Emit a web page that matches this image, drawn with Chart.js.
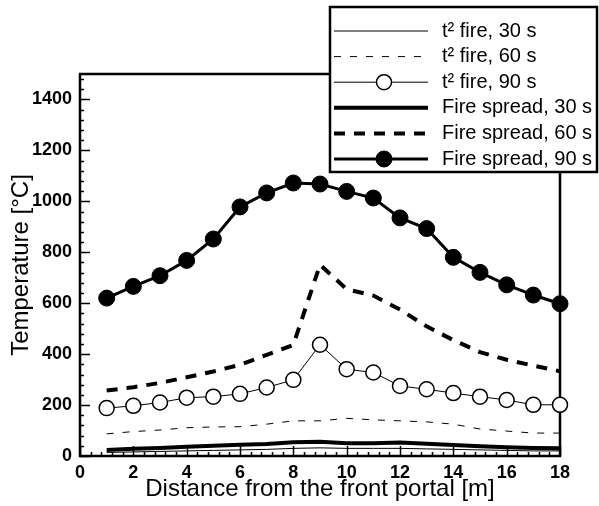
<!DOCTYPE html>
<html>
<head>
<meta charset="utf-8">
<script src="https://cdn.jsdelivr.net/npm/chart.js@4/dist/chart.umd.min.js"></script>
<style>
  html, body { margin: 0; padding: 0; background: #fff; }
</style>
</head>
<body>
<canvas id="tempChart" width="599" height="506"></canvas>
<script>
// distance from the front portal [m]
const distance = [1, 2, 3, 4, 5, 6, 7, 8, 9, 10, 11, 12, 13, 14, 15, 16, 17, 18];

// temperatures [°C]
const t2Fire30 = [14, 16, 18, 20, 22, 24, 26, 30, 32, 30, 30, 30, 28, 26, 24, 22, 20, 20];
const t2Fire60 = [87, 96, 102, 111, 114, 115, 125, 138, 138, 148, 142, 138, 134, 125, 106, 98, 90, 90];
const t2Fire90 = [188, 197, 210, 229, 233, 244, 269, 299, 437, 341, 328, 275, 262, 247, 233, 220, 201, 201];
const spread30 = [24, 28, 31, 36, 40, 44, 47, 54, 56, 50, 50, 53, 48, 43, 38, 34, 31, 30];
const spread60 = [257, 270, 287, 309, 332, 358, 397, 436, 751, 655, 630, 575, 509, 455, 408, 378, 355, 333];
const spread90 = [620, 666, 708, 768, 852, 978, 1033, 1072, 1068, 1039, 1013, 935, 893, 780, 721, 672, 632, 598];

const xTicks = [0, 2, 4, 6, 8, 10, 12, 14, 16, 18];
const yTicks = [0, 200, 400, 600, 800, 1000, 1200, 1400];

const FONT = "'Liberation Sans', Arial, sans-serif";
const pts = (arr) => distance.map((d, i) => ({ x: d, y: arr[i] }));

// frame + inward tick marks
const framePlugin = {
    id: 'frame',
    beforeDatasetsDraw(chart) {
        const { ctx, chartArea: a, scales: { x, y } } = chart;
        ctx.save();
        ctx.strokeStyle = '#000';
        ctx.lineWidth = 1.5;
        ctx.beginPath();
        for (let i = 0; i <= 45; i++) {
            const v = i * 0.4;
            const px = Math.round(x.getPixelForValue(v)) + 0.5;
            const len = i % 5 === 0 ? 10 : 4;
            ctx.moveTo(px, a.bottom);
            ctx.lineTo(px, a.bottom - len);
        }
        for (let i = 0; i <= 37; i++) {
            const v = i * 40;
            const py = Math.round(y.getPixelForValue(v)) + 0.5;
            const len = i % 5 === 0 ? 10 : 4;
            ctx.moveTo(a.left, py);
            ctx.lineTo(a.left + len, py);
        }
        ctx.stroke();
        ctx.lineWidth = 2.5;
        ctx.strokeRect(a.left, a.top, a.right - a.left, a.bottom - a.top);
        ctx.restore();
    }
};

// boxed legend in the top right corner
const legendPlugin = {
    id: 'boxLegend',
    afterDraw(chart) {
        const ctx = chart.ctx;
        const box = { l: 330, t: 7, r: 597, b: 172 };
        ctx.save();
        ctx.fillStyle = '#fff';
        ctx.fillRect(box.l, box.t, box.r - box.l, box.b - box.t);
        ctx.strokeStyle = '#000';
        ctx.lineWidth = 2.5;
        ctx.strokeRect(box.l, box.t, box.r - box.l, box.b - box.t);

        chart.data.datasets.forEach((ds, i) => {
            const yy = 31 + i * 25.6;
            ctx.strokeStyle = '#000';
            ctx.lineWidth = ds.borderWidth;
            ctx.setLineDash(ds.borderDash || []);
            ctx.beginPath();
            ctx.moveTo(334, yy);
            ctx.lineTo(428, yy);
            ctx.stroke();
            ctx.setLineDash([]);
            if (ds.pointRadius > 0) {
                ctx.beginPath();
                ctx.arc(384, yy, ds.pointRadius, 0, Math.PI * 2);
                ctx.fillStyle = ds.pointBackgroundColor;
                ctx.fill();
                ctx.lineWidth = ds.pointBorderWidth;
                ctx.stroke();
            }
            ctx.fillStyle = '#000';
            ctx.font = '20px ' + FONT;
            ctx.textBaseline = 'middle';
            ctx.fillText(ds.label, 442, yy);
        });
        ctx.restore();
    }
};

new Chart(document.getElementById('tempChart'), {
    type: 'line',
    data: {
        datasets: [
            { label: 't² fire, 30 s', data: pts(t2Fire30), borderColor: '#000', borderWidth: 1, pointRadius: 0, order: 6 },
            { label: 't² fire, 60 s', data: pts(t2Fire60), borderColor: '#000', borderWidth: 1, borderDash: [7, 9], pointRadius: 0, order: 5 },
            { label: 't² fire, 90 s', data: pts(t2Fire90), borderColor: '#000', borderWidth: 1, pointRadius: 7.5,
              pointBackgroundColor: '#fff', pointBorderColor: '#000', pointBorderWidth: 1.5, order: 4 },
            { label: 'Fire spread, 30 s', data: pts(spread30), borderColor: '#000', borderWidth: 4, pointRadius: 0, order: 3 },
            { label: 'Fire spread, 60 s', data: pts(spread60), borderColor: '#000', borderWidth: 4, borderDash: [11, 9], pointRadius: 0, order: 2 },
            { label: 'Fire spread, 90 s', data: pts(spread90), borderColor: '#000', borderWidth: 3, pointRadius: 8,
              pointBackgroundColor: '#000', pointBorderColor: '#000', pointBorderWidth: 1, order: 1 }
        ].map(ds => Object.assign({ fill: false, tension: 0, clip: false, pointHoverRadius: ds.pointRadius }, ds))
    },
    options: {
        responsive: false,
        devicePixelRatio: 1,
        animation: false,
        layout: { padding: { left: 0, top: 74, right: 39, bottom: 0 } },
        plugins: { legend: { display: false }, tooltip: { enabled: false } },
        scales: {
            x: {
                type: 'linear',
                min: 0,
                max: 18,
                grid: { display: false, drawTicks: false },
                border: { display: false },
                afterBuildTicks: (s) => { s.ticks = xTicks.map(v => ({ value: v })); },
                afterFit: (s) => { s.height = 50; },
                ticks: { autoSkip: false, maxRotation: 0, padding: 6, color: '#000',
                         font: { family: FONT, size: 18, weight: 'bold' }, callback: (v) => String(v) },
                title: { display: true, text: 'Distance from the front portal [m]', color: '#000',
                         font: { family: FONT, size: 24, lineHeight: 1.2 }, padding: { top: 0, bottom: 2 } }
            },
            y: {
                type: 'linear',
                min: 0,
                max: 1500,
                grid: { display: false, drawTicks: false },
                border: { display: false },
                afterBuildTicks: (s) => { s.ticks = yTicks.map(v => ({ value: v })); },
                afterFit: (s) => { s.width = 80; },
                ticks: { autoSkip: false, padding: 8, color: '#000',
                         font: { family: FONT, size: 18, weight: 'bold' }, callback: (v) => String(v) },
                title: { display: true, text: 'Temperature [°C]', color: '#000',
                         font: { family: FONT, size: 24, lineHeight: 1.2 }, padding: { top: 7, bottom: 0 } }
            }
        }
    },
    plugins: [framePlugin, legendPlugin]
});
</script>
</body>
</html>
